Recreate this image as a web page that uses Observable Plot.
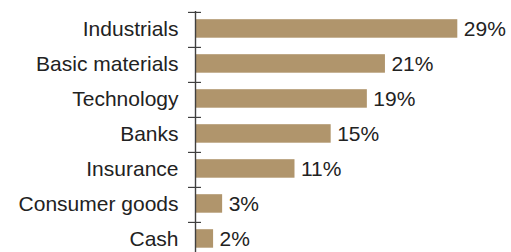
<!DOCTYPE html>
<html>
<head>
<meta charset="utf-8">
<script src="https://cdn.jsdelivr.net/npm/d3@7"></script>
<script src="https://cdn.jsdelivr.net/npm/@observablehq/plot@0.6"></script>
<style>
  html, body { margin: 0; padding: 0; background: #fff; }
  svg { display: block; }
</style>
</head>
<body>
<div id="chart"></div>
<script>
const categories = ["Industrials", "Basic materials", "Technology", "Banks", "Insurance", "Consumer goods", "Cash"];
const values = [29, 21, 19, 15, 11, 3, 2];
const valueLabels = ["29%", "21%", "19%", "15%", "11%", "3%", "2%"];

const data = categories.map((c, i) => ({category: c, value: values[i], label: valueLabels[i]}));

const bandTop = 11, bandStep = 35.17;
const chart = Plot.plot({
  width: 511,
  height: 252,
  marginTop: bandTop,
  marginBottom: 0,
  marginLeft: 195,
  marginRight: 54,
  style: {fontFamily: "Liberation Sans, Arial, sans-serif", fontSize: "21px", color: "#222"},
  x: {domain: [0, 29], range: [195, 457.3], axis: null},
  y: {domain: categories, range: [bandTop, bandTop + bandStep * categories.length], padding: 0, axis: null},
  marks: [
    Plot.barX(data, {x: "value", y: "category", fill: "#b0956c", insetTop: 7.2, insetBottom: 9.3}),
    Plot.ruleX([0], {stroke: "#404040", strokeWidth: 1.4}),
    Plot.ruleY(data, {y: "category", x1: 0, x2: 0, dy: -bandStep / 2, insetLeft: -7, insetRight: -6, stroke: "#404040", strokeWidth: 1.2}),
    Plot.text(data, {x: 0, y: "category", text: "category", textAnchor: "end", dx: -17, dy: -1, fill: "#222", fontSize: 21}),
    Plot.text(data, {x: "value", y: "category", text: "label", textAnchor: "start", dx: 6, dy: -1, fill: "#222", fontSize: 21})
  ]
});
document.getElementById("chart").appendChild(chart);
</script>
</body>
</html>
